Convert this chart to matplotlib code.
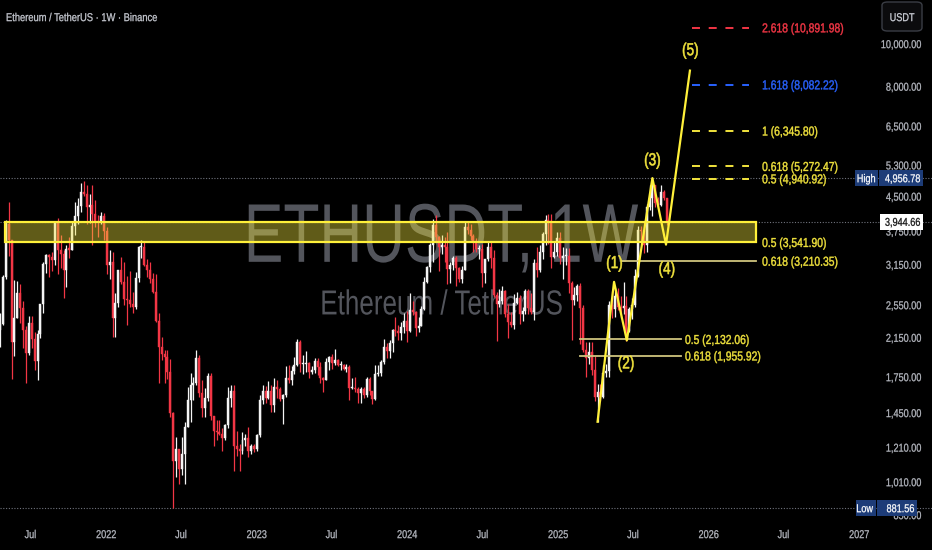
import matplotlib

matplotlib.use("Agg")
import matplotlib.dates as mdates
import matplotlib.pyplot as plt
import matplotlib.transforms as mtransforms
import numpy as np
import pandas as pd
from matplotlib.font_manager import FontProperties
from matplotlib.patches import FancyBboxPatch, PathPatch, Rectangle
from matplotlib.textpath import TextPath

# weekly ETHUSDT candles (open = previous close)
week_start = "2021-04-12"
first_open = 2140.0
week_close = [
    2240, 2315, 2950, 3900, 3580, 2100, 2390, 2710, 2510, 2240, 1980, 2320, 2140, 1900, 2190, 2560,
    3160, 3310, 3280, 3230, 3940, 3410, 3330, 3060, 3420, 3410, 3850, 4060, 4290, 4620, 4570, 4270,
    4300, 4110, 3960, 3930, 4060, 3760,
    3140, 3200, 2380, 2580, 3060, 2880, 2630, 2620, 2560, 2520, 2940, 3450, 3450, 3150, 3060, 2920,
    2730, 2350, 2050, 1970, 1940, 1800, 1450, 1130, 1200, 1080, 1170, 1350, 1550, 1680, 1700, 1935,
    1610, 1490, 1570, 1760, 1430, 1320, 1310, 1300, 1270, 1360, 1570, 1630, 1220, 1200, 1190, 1260,
    1270, 1190, 1220, 1200,
    1290, 1550, 1630, 1570, 1630, 1510, 1660, 1640, 1560, 1590, 1740, 1720, 1810, 1860, 2100, 1870,
    1870, 1880, 1800, 1820, 1900, 1840, 1740, 1720, 1890, 1940, 1880, 1910, 1860, 1860, 1830, 1840,
    1650, 1650, 1640, 1610, 1640, 1590, 1730, 1630, 1560, 1780, 1790, 1890, 2050, 2010, 2090, 2240,
    2230, 2200, 2270, 2350,
    2230, 2480, 2460, 2260, 2290, 2500, 2880, 3120, 3490, 3880, 3640, 3450, 3500, 3450, 3080, 3150,
    3260, 3100, 2930, 3070, 3830, 3780, 3670, 3570, 3420, 3420, 3020, 3250, 3450, 3260, 2690, 2560,
    2610, 2750, 2430, 2340, 2300, 2580, 2650, 2440, 2470, 2750, 2510, 2460, 3180, 3070, 3360, 3700,
    3990, 3960, 3280, 3360, 3630,
    3260, 3300, 3300, 2870, 2620, 2690, 2820, 2510, 2020, 1930, 2000, 1820, 1580, 1620, 1580, 1790,
    1810, 2550, 2500, 2680, 2530, 2510, 2540, 2230, 2500, 2550, 2970, 3770, 3750, 3490, 4270, 4470,
    4780, 4360, 4300, 4610, 4470, 3944.66,
]
week_high = [
    2550, 2450, 2980, 3980, 4372, 3580, 2910, 2890, 2850, 2600, 2290, 2410, 2410, 2210, 2240, 2550,
    3200, 3340, 3330, 3370, 3970, 4030, 3680, 3400, 3490, 3650, 3970, 4380, 4460, 4820, 4870, 4770,
    4550, 4780, 4430, 4080, 4150, 4120,
    3840, 3410, 3360, 2720, 3040, 3280, 3200, 2970, 3050, 2730, 3040, 3480, 3580, 3550, 3240, 3190,
    3020, 3000, 2450, 2160, 2020, 2020, 1920, 1460, 1280, 1200, 1280, 1380, 1660, 1790, 1750, 2020,
    1960, 1720, 1650, 1790, 1790, 1430, 1400, 1400, 1340, 1370, 1660, 1680, 1680, 1320, 1230, 1310,
    1300, 1350, 1230, 1230,
    1300, 1590, 1680, 1670, 1710, 1680, 1740, 1720, 1660, 1600, 1850, 1860, 1850, 1940, 2140, 2120,
    1960, 2010, 1890, 1850, 1930, 1930, 1890, 1750, 1930, 1950, 1970, 2030, 1920, 1900, 1870, 1870,
    1860, 1740, 1750, 1660, 1660, 1660, 1750, 1750, 1630, 1860, 1860, 1910, 2140, 2090, 2130, 2250,
    2400, 2300, 2330, 2450,
    2470, 2720, 2600, 2470, 2400, 2540, 2950, 3130, 3530, 4000, 4090, 3660, 3680, 3640, 3730, 3200,
    3290, 3290, 3120, 3130, 3950, 3970, 3890, 3700, 3630, 3490, 3520, 3250, 3560, 3560, 3400, 2730,
    2780, 2820, 2760, 2560, 2460, 2700, 2730, 2690, 2520, 2770, 2770, 2720, 3250, 3450, 3500, 3730,
    4090, 4110, 4110, 3550, 3740,
    3740, 3450, 3440, 3430, 2900, 2800, 2850, 2860, 2550, 2100, 2100, 2100, 1950, 1690, 1690, 1860,
    1870, 2600, 2740, 2790, 2790, 2680, 2880, 2680, 2520, 2640, 3080, 3860, 3860, 3940, 4330, 4790,
    4956.78, 4790, 4490, 4770, 4660, 4470,
]
week_low = [
    1950, 2050, 2300, 2930, 3300, 1730, 1950, 2380, 2320, 2040, 1700, 1960, 2040, 1820, 1720, 2150,
    2450, 3010, 2950, 3050, 3150, 3000, 3100, 2650, 2800, 3270, 3400, 3680, 3890, 4150, 4510, 3900,
    3920, 3500, 3830, 3640, 3890, 3580,
    3000, 2930, 2160, 2160, 2530, 2850, 2550, 2300, 2530, 2450, 2500, 2880, 3260, 3130, 2950, 2870,
    2710, 2340, 1700, 1910, 1700, 1730, 1420, 881.56, 1040, 1000, 1050, 1000, 1350, 1380, 1550, 1680,
    1580, 1420, 1420, 1540, 1400, 1220, 1260, 1290, 1190, 1260, 1340, 1500, 1070, 1160, 1070, 1170,
    1220, 1150, 1170, 1180,
    1190, 1280, 1520, 1530, 1560, 1460, 1460, 1570, 1540, 1370, 1580, 1700, 1680, 1780, 1850, 1800,
    1780, 1800, 1740, 1780, 1790, 1770, 1700, 1620, 1720, 1820, 1830, 1860, 1850, 1820, 1820, 1800,
    1550, 1640, 1620, 1530, 1530, 1570, 1580, 1590, 1520, 1550, 1760, 1760, 1870, 1930, 1930, 2000,
    2170, 2120, 2120, 2200,
    2100, 2220, 2420, 2170, 2220, 2290, 2480, 2860, 3030, 3200, 3560, 3050, 3340, 3200, 2850, 2860,
    3070, 2820, 2880, 2860, 3060, 3700, 3580, 3360, 3360, 3240, 2810, 2870, 3220, 3090, 2660, 2110,
    2520, 2570, 2400, 2150, 2280, 2250, 2560, 2310, 2350, 2440, 2440, 2440, 2360, 2960, 3040, 3250,
    3500, 3520, 3100, 3270, 3300,
    3160, 2920, 3140, 2720, 2120, 2550, 2600, 2080, 2000, 1750, 1870, 1770, 1540, 1385, 1540, 1570,
    1750, 1750, 2390, 2400, 2480, 2380, 2440, 2110, 2220, 2370, 2520, 2950, 3500, 3350, 3360, 4200,
    4060, 4270, 4210, 4280, 4420, 3880,
]

high_price = 4956.78
low_price = 881.56
last_price = 3944.66

zone_low = 3541.90
zone_high = 3940.0

ext_names = ["2.618", "1.618", "1", "0.618", "0.5"]
ext_prices = [10891.98, 8082.22, 6345.80, 5272.47, 4940.92]
ext_colors = ["#f23645", "#2962ff", "#f2e43d", "#f2e43d", "#f2e43d"]

retr_names = ["0.5", "0.618", "0.5", "0.618"]
retr_prices = [3541.90, 3210.35, 2132.06, 1955.92]

wave_dates = ["2025-04-07", "2025-05-17", "2025-06-17", "2025-08-18", "2025-09-20", "2025-11-17"]
wave_prices = [1385, 2880, 2120, 4956.78, 3500, 8700]
wave_labels = ["(1)", "(2)", "(3)", "(4)", "(5)"]
wave_label_dates = ["2025-05-17", "2025-06-14", "2025-08-17", "2025-09-21", "2025-11-17"]
wave_label_prices = [3198, 1892, 5477, 3100, 9742]

price_ticks = [10000, 8000, 6500, 5300, 4500, 3750, 3150, 2550, 2150, 1750, 1450, 1210, 1010, 850]
time_ticks = ["2021-07-01", "2022-01-01", "2022-07-01", "2023-01-01", "2023-07-01", "2024-01-01",
              "2024-07-01", "2025-01-01", "2025-07-01", "2026-01-01", "2026-07-01", "2027-01-01"]
time_labels = ["Jul", "2022", "Jul", "2023", "Jul", "2024", "Jul", "2025", "Jul", "2026", "Jul", "2027"]

BG = "#000000"
TXT = "#b7bac2"
YEL = "#f2e43d"
UP = "#f4f4f4"
DOWN = "#f23645"
BLUE_BOX = "#1d3c78"

d = lambda s: mdates.date2num(pd.Timestamp(s))

fig = plt.figure(figsize=(9.32, 5.5), dpi=100, facecolor=BG)
ax = fig.add_axes([0, 0, 1, 1])
ax.set_facecolor(BG)
ax.set_yscale("log")
px_day = (859 - 106) / (d("2027-01-01") - d("2022-01-01"))
ax.set_xlim(d("2022-01-01") - 106 / px_day, d("2022-01-01") + 826 / px_day)
ax.set_ylim(10 ** (4 - 506 / 440), 10 ** (4 + 44 / 440))
ax.axis("off")

blend_x = mtransforms.blended_transform_factory(ax.transData, ax.transAxes)
blend_y = mtransforms.blended_transform_factory(ax.transAxes, ax.transData)
K = fig.dpi / 72.0
FONT = FontProperties(family="Liberation Sans")


def txt(x, y, s, size, color, trans, ha="left", squeeze=0.8, zorder=5, stroke=0.2):
    # narrow text drawn as a squeezed path, vertically centred on the cap height
    path = TextPath((0, 0), s, size=size, prop=FONT)
    width = path.get_extents().x1 * squeeze * K
    px, py = trans.transform((x, y))
    dx = {"left": 0, "center": -width / 2, "right": -width}[ha]
    tr = mtransforms.Affine2D().scale(squeeze * K, K).translate(px + dx, py - 0.358 * size * K)
    ax.add_artist(PathPatch(path, transform=tr, fc=color, ec=color, lw=stroke, zorder=zorder))


def box(x0, x1, y, h, color, trans, zorder=6):
    _, py = trans.transform((0, y))
    ax.add_artist(Rectangle((x0, py - h / 2), x1 - x0, h, transform=mtransforms.IdentityTransform(),
                            fc=color, ec="none", zorder=zorder))


# watermark
txt(441 / 932, 1 - 232 / 550, "ETHUSDT, 1W", 60, "#53555c", ax.transAxes, ha="center",
    squeeze=0.71, zorder=0.5, stroke=0)
txt(441 / 932, 1 - 302 / 550, "Ethereum / TetherUS", 25, "#53555c", ax.transAxes, ha="center",
    squeeze=0.75, zorder=0.5, stroke=0)

# candles
dates = pd.date_range(week_start, periods=len(week_close), freq="7D")
x = mdates.date2num(dates)
close = np.array(week_close, dtype=float)
high = np.array(week_high, dtype=float)
low = np.array(week_low, dtype=float)
opens = np.r_[first_open, close[:-1]]
colors = np.where(close >= opens, UP, DOWN)
ax.vlines(x, low, high, colors=colors, lw=0.9, zorder=2)
bottom = np.minimum(opens, close)
height = np.maximum(np.abs(close - opens), bottom * 0.006)
ax.bar(x, height, bottom=bottom, width=4.8, color=colors, edgecolor=colors, lw=0.3, zorder=2)

# dotted reference lines
for p in [high_price, last_price, low_price]:
    ax.axhline(p, color="#70737d", lw=0.8, ls=(0, (1, 1.5)), zorder=1)

# support zone
zx0, zx1 = d("2021-05-01"), d("2026-04-26")
ax.add_patch(Rectangle((zx0, zone_low), zx1 - zx0, zone_high - zone_low,
                       facecolor=YEL, alpha=0.4, edgecolor="none", zorder=3))
ax.add_patch(Rectangle((zx0, zone_low), zx1 - zx0, zone_high - zone_low,
                       facecolor="none", edgecolor="#fff03a", lw=1.6, zorder=3))

# retracement levels
retr_spans = [("2021-05-01", "2026-04-26"), ("2025-06-05", "2026-04-26"),
              ("2025-02-23", "2025-10-26"), ("2025-02-23", "2025-10-26")]
for i, (name, p) in enumerate(zip(retr_names, retr_prices)):
    x0, x1 = retr_spans[i]
    if i > 0:
        ax.plot([d(x0), d(x1)], [p, p], color="#cfc47e", lw=1.3, zorder=4)
    lx = d("2026-05-11") if i < 2 else d("2025-11-05")
    txt(lx, p, f"{name} ({p:,.2f})", 9.3, YEL, ax.transData, squeeze=0.8, stroke=0.3)

# extension levels
for name, p, c in zip(ext_names, ext_prices, ext_colors):
    ax.plot([d("2025-11-22"), d("2026-04-09")], [p, p], color=c, lw=1.4,
            ls=(0, (4.1, 4.5)), zorder=4)
    txt(d("2026-05-11"), p, f"{name} ({p:,.2f})", 9.3, c, ax.transData, squeeze=0.8, stroke=0.3)

# elliott wave path
ax.plot([d(s) for s in wave_dates], wave_prices, color="#fff03a", lw=1.6, zorder=4)
for lab, s, p in zip(wave_labels, wave_label_dates, wave_label_prices):
    txt(d(s), p, lab, 12.5, YEL, ax.transData, ha="center", squeeze=0.78, stroke=0.4)

# price scale
for p in price_ticks:
    txt(921 / 932, p, f"{p:,.2f}", 8.2, TXT, blend_y, ha="right")

box(855, 878, high_price, 16, BLUE_BOX, ax.transData)
box(879, 923, high_price, 16, BLUE_BOX, ax.transData)
txt(875 / 932, high_price, "High", 8.2, "white", blend_y, ha="right", zorder=7)
txt(920 / 932, high_price, f"{high_price:,.2f}", 8.2, "white", blend_y, ha="right", zorder=7)

box(880, 923, last_price, 16, "white", ax.transData)
txt(920 / 932, last_price, f"{last_price:,.2f}", 8.2, "#131313", blend_y, ha="right", zorder=7)

box(856, 876, low_price, 16, BLUE_BOX, ax.transData)
box(877, 917, low_price, 16, BLUE_BOX, ax.transData)
txt(873 / 932, low_price, "Low", 8.2, "white", blend_y, ha="right", zorder=7)
txt(914 / 932, low_price, f"{low_price:,.2f}", 8.2, "white", blend_y, ha="right", zorder=7)

ax.add_artist(FancyBboxPatch((882 / 932, 1 - 31 / 550), 40 / 932, 29 / 550,
                             boxstyle="round,pad=0,rounding_size=0.006", transform=ax.transAxes,
                             fc="#0b0b0d", ec="#3a3d45", lw=1, zorder=6))
txt(902 / 932, 1 - 17 / 550, "USDT", 8.2, "#d1d4dc", ax.transAxes, ha="center", zorder=7)

# time scale
for s, lab in zip(time_ticks, time_labels):
    txt(d(s), 16 / 550, lab, 8.2, TXT, blend_x, ha="center")

txt(6 / 932, 1 - 17 / 550, "Ethereum / TetherUS · 1W · Binance", 8.2, "#c9ccd4", ax.transAxes,
    squeeze=0.82)

fig.savefig("out.png", dpi=100, facecolor=BG)
